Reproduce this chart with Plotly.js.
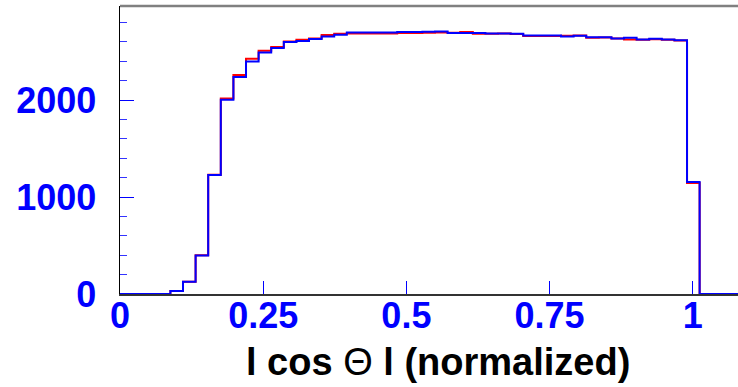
<!DOCTYPE html>
<html>
<head>
<meta charset="utf-8">
<script src="https://cdn.plot.ly/plotly-3.0.1.min.js"></script>
<style>
  html, body { margin: 0; padding: 0; background: #fff; }
  #plot { width: 738px; height: 387px; }
</style>
</head>
<body>
<div id="plot"></div>
<script>
// Histogram of |cos Θ| (normalized): 50 bins on [0, 1.1]
const histMin = 0;
const histMax = 1.1;
const nBins = 50;

// bin contents, reference sample (red)
const countsRed = [
  0, 0, 0, 0, 30, 127, 400, 1230, 2016, 2258,
  2426, 2508, 2547, 2605, 2622, 2635, 2670, 2683, 2687, 2687,
  2687, 2687, 2691, 2691, 2694, 2697, 2694, 2701, 2684, 2684,
  2687, 2680, 2660, 2660, 2660, 2663, 2666, 2642, 2646, 2635,
  2625, 2622, 2628, 2622, 2615, 1145, 0, 0, 0, 0
];

// bin contents, comparison sample (blue)
const countsBlue = [
  0, 0, 0, 0, 30, 127, 398, 1227, 2003, 2237,
  2398, 2491, 2536, 2598, 2608, 2629, 2656, 2673, 2697, 2697,
  2697, 2697, 2701, 2701, 2704, 2708, 2691, 2691, 2691, 2687,
  2687, 2684, 2666, 2666, 2666, 2656, 2663, 2649, 2649, 2635,
  2642, 2625, 2632, 2625, 2618, 1155, 0, 0, 0, 0
];

const xTickVals = [0, 0.25, 0.5, 0.75, 1];
const xTickText = ['0', '0.25', '0.5', '0.75', '1'];
const yTickVals = [0, 1000, 2000];
const yTickText = ['0', '1000', '2000'];
const xTitle = 'l cos <span style="font-weight:normal">Θ</span> l (normalized)';

// step outline: one point per lower bin edge, plus the closing edge
function stepTrace(counts, color) {
  const w = (histMax - histMin) / nBins;
  const xs = [], ys = [];
  for (let i = 0; i < counts.length; i++) {
    xs.push(histMin + i * w);
    ys.push(counts[i]);
  }
  xs.push(histMax);
  ys.push(counts[counts.length - 1]);
  return {
    type: 'scatter', mode: 'lines', x: xs, y: ys,
    line: { shape: 'hv', color: color, width: 2 },
    hoverinfo: 'skip', showlegend: false
  };
}

const data = [stepTrace(countsRed, '#ff0000'), stepTrace(countsBlue, '#0000ff')];

const fontFamily = 'Liberation Sans, Arial, sans-serif';
const tickFont = { family: fontFamily, size: 36, color: '#0000ff', weight: 'bold' };

const layout = {
  width: 738, height: 387,
  margin: { l: 119.5, r: 0, t: 6, b: 93, pad: 0 },
  paper_bgcolor: '#ffffff', plot_bgcolor: '#ffffff',
  showlegend: false,
  xaxis: {
    range: [0, 1.079],
    tickmode: 'array', tickvals: xTickVals, ticktext: xTickText,
    ticks: 'inside', ticklen: 13, tickwidth: 1, tickcolor: '#0000ff',
    tickfont: tickFont, ticklabelstandoff: -11,
    showgrid: false, zeroline: false,
    showline: true, linecolor: '#333333', linewidth: 1.5,
    layer: 'below traces'
  },
  yaxis: {
    range: [0, 2970],
    tickmode: 'array', tickvals: yTickVals, ticktext: yTickText,
    ticks: 'inside', ticklen: 14, tickwidth: 1, tickcolor: '#0000ff',
    minor: { dtick: 200, ticks: 'inside', ticklen: 7, tickwidth: 1, tickcolor: '#3333ff', showgrid: false },
    tickfont: tickFont, ticklabelstandoff: 15,
    showgrid: false, zeroline: false,
    showline: true, linecolor: '#000000', linewidth: 1.5,
    layer: 'below traces'
  },
  annotations: [
    { text: xTitle, xref: 'paper', yref: 'paper', x: 0.514, y: -0.236,
      xanchor: 'center', yanchor: 'middle', showarrow: false,
      font: { family: fontFamily, size: 38, color: '#000000', weight: 'bold' } }
  ],
  shapes: [
    { type: 'line', xref: 'paper', yref: 'paper', x0: 0, x1: 1, y0: 1, y1: 1,
      line: { color: '#808080', width: 2.5 } }
  ]
};

Plotly.newPlot('plot', data, layout, { staticPlot: true, displayModeBar: false });
</script>
</body>
</html>
